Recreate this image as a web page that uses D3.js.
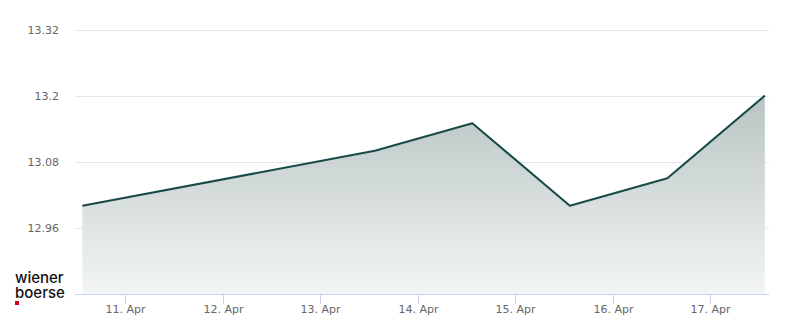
<!doctype html>
<html lang="en">
<head>
    <meta charset="utf-8">
    <title>wiener boerse chart</title>
    <style>
        body { margin: 0; background: #fff; font-family: "DejaVu Sans", Verdana, sans-serif; }
        svg { display: block; }
    </style>
</head>
<body>
<div id="chart"></div>
<script src="https://d3js.org/d3.v7.min.js"></script>
<script>
    // closes (weekend 11./12. Apr has no trading)
    var dates = ["2026-04-10T13:30", "2026-04-13T13:30", "2026-04-14T13:30", "2026-04-15T13:30", "2026-04-16T13:30", "2026-04-17T13:30"];
    var prices = [13.00, 13.10, 13.15, 13.00, 13.05, 13.20];
    var yTicks = [12.96, 13.08, 13.2, 13.32];
    var xTicks = ["2026-04-11", "2026-04-12", "2026-04-13", "2026-04-14", "2026-04-15", "2026-04-16", "2026-04-17"];

    var width = 800, height = 324;
    var plotLeft = 75, plotRight = 769, plotTop = 29.5, plotBottom = 294;

    var svg = d3.select("#chart").append("svg")
        .attr("width", width)
        .attr("height", height);

    var data = dates.map(function (d, i) {
        return { date: new Date(d + "Z"), value: prices[i] };
    });

    var x = d3.scaleUtc()
        .domain([new Date("2026-04-11T00:00Z"), new Date("2026-04-17T00:00Z")])
        .range([125, 710]);

    var y = d3.scaleLinear()
        .domain([12.84, 13.32])
        .range([plotBottom, plotTop]);

    // grid
    svg.append("g").selectAll("line")
        .data(yTicks)
        .enter().append("line")
        .attr("x1", plotLeft).attr("x2", plotRight)
        .attr("y1", function (d) { return Math.round(y(d)) + 0.5; })
        .attr("y2", function (d) { return Math.round(y(d)) + 0.5; })
        .style("stroke", "#e6e6e6");

    svg.append("g").selectAll("text")
        .data(yTicks)
        .enter().append("text")
        .attr("x", 59)
        .attr("y", function (d) { return y(d) + 4; })
        .attr("text-anchor", "end")
        .style("font-size", "11px")
        .style("fill", "#666")
        .text(function (d) { return d3.format("")(d); });

    // area gradient
    var grad = svg.append("defs").append("linearGradient")
        .attr("id", "fill").attr("x1", 0).attr("x2", 0).attr("y1", 0).attr("y2", 1);
    grad.append("stop").attr("offset", "0%").attr("stop-color", "#b8c4c3");
    grad.append("stop").attr("offset", "100%").attr("stop-color", "#f3f5f5");

    var area = d3.area()
        .x(function (d) { return x(d.date); })
        .y0(plotBottom)
        .y1(function (d) { return y(d.value); });

    svg.append("path")
        .datum(data)
        .attr("d", area)
        .style("fill", "url(#fill)");

    var line = d3.line()
        .x(function (d) { return x(d.date); })
        .y(function (d) { return y(d.value); });

    svg.append("path")
        .datum(data)
        .attr("d", line)
        .style("fill", "none")
        .style("stroke", "#174a46")
        .style("stroke-width", 2)
        .style("stroke-linejoin", "round");

    // x axis
    svg.append("line")
        .attr("x1", plotLeft).attr("x2", plotRight)
        .attr("y1", plotBottom + 0.5).attr("y2", plotBottom + 0.5)
        .style("stroke", "#ccd6eb");

    var xt = svg.append("g").selectAll("g")
        .data(xTicks.map(function (d) { return new Date(d + "T00:00Z"); }))
        .enter().append("g")
        .attr("transform", function (d) { return "translate(" + (Math.round(x(d)) + 0.5) + ",0)"; });
    xt.append("line")
        .attr("y1", plotBottom).attr("y2", plotBottom + 10)
        .style("stroke", "#ccd6eb");
    xt.append("text")
        .attr("y", plotBottom + 19)
        .attr("text-anchor", "middle")
        .style("font-size", "11px")
        .style("fill", "#666")
        .text(function (d) { return d3.utcFormat("%d. %b")(d); });

    // logo
    var logo = svg.append("g")
        .style("font-family", "Inter, Roboto, sans-serif")
        .style("font-size", "15px")
        .style("font-weight", 500)
        .style("fill", "#111");
    logo.append("text").attr("x", 15).attr("y", 283).text("wiener");
    logo.append("text").attr("x", 15).attr("y", 298).text("boerse");
    logo.append("rect").attr("x", 15).attr("y", 301).attr("width", 4).attr("height", 4)
        .style("fill", "#d4001a");
</script>
</body>
</html>
